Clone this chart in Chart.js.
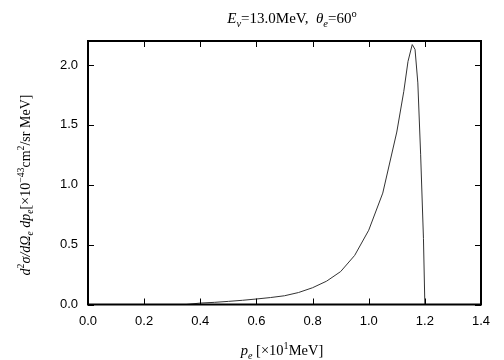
<!DOCTYPE html>
<html><head><meta charset="utf-8">
<script src="https://cdn.jsdelivr.net/npm/chart.js@4"></script>
<style>html,body{margin:0;padding:0;background:#fff}#wrap{width:504px;height:360px}</style>
</head><body><div id="wrap"><canvas id="c" width="504" height="360"></canvas></div>
<script>
// Data
const pE = [0.35, 0.40, 0.45, 0.50, 0.55, 0.60, 0.65, 0.70, 0.75, 0.80, 0.85, 0.90, 0.95, 1.00, 1.05, 1.10, 1.125, 1.14, 1.155, 1.165, 1.175, 1.185, 1.195, 1.20];
const xsec = [0.0, 0.012, 0.018, 0.026, 0.035, 0.046, 0.058, 0.073, 0.100, 0.140, 0.195, 0.275, 0.41, 0.62, 0.93, 1.44, 1.78, 2.03, 2.17, 2.13, 1.85, 1.25, 0.55, 0.0];
const xTicks = [0.0, 0.2, 0.4, 0.6, 0.8, 1.0, 1.2, 1.4];
const yTicks = [0.0, 0.5, 1.0, 1.5, 2.0];

const SERIF = '"Liberation Serif", "DejaVu Serif", serif';
const SANS = '"Liberation Sans", Arial, sans-serif';

function richWidth(ctx, parts, size) {
  let w = 0;
  for (const p of parts) {
    const s = p.sh ? size * 0.7 : size;
    ctx.font = (p.i ? 'italic ' : '') + s + 'px ' + SERIF;
    w += ctx.measureText(p.t).width;
  }
  return w;
}
function drawRich(ctx, parts, cx, cy, size, rot) {
  ctx.save();
  ctx.translate(cx, cy);
  if (rot) ctx.rotate(rot);
  const w = richWidth(ctx, parts, size);
  let x = -w / 2;
  ctx.fillStyle = '#000';
  ctx.textBaseline = 'alphabetic';
  ctx.textAlign = 'left';
  for (const p of parts) {
    const s = p.sh ? size * 0.7 : size;
    ctx.font = (p.i ? 'italic ' : '') + s + 'px ' + SERIF;
    let dy = 0;
    if (p.sh === 'sub') dy = size * 0.25;
    if (p.sh === 'sup') dy = -size * 0.4;
    ctx.fillText(p.t, x, size * 0.35 + dy);
    x += ctx.measureText(p.t).width;
  }
  ctx.restore();
}

const deco = {
  id: 'deco',
  afterDraw(chart) {
    const ctx = chart.ctx;
    const a = chart.chartArea;
    const xs = chart.scales.x, ys = chart.scales.y;
    ctx.save();
    ctx.strokeStyle = '#000';
    ctx.lineWidth = 1;
    const L = 6;
    for (const v of xTicks) {
      const px = Math.round(xs.getPixelForValue(v)) + 0.5;
      ctx.beginPath();
      ctx.moveTo(px, a.bottom); ctx.lineTo(px, a.bottom - L);
      ctx.moveTo(px, a.top); ctx.lineTo(px, a.top + L);
      ctx.stroke();
    }
    for (const v of yTicks) {
      const py = Math.round(ys.getPixelForValue(v)) + 0.5;
      ctx.beginPath();
      ctx.moveTo(a.left, py); ctx.lineTo(a.left + L, py);
      ctx.moveTo(a.right, py); ctx.lineTo(a.right - L, py);
      ctx.stroke();
    }
    ctx.lineWidth = 2;
    ctx.strokeRect(a.left, a.top, a.right - a.left, a.bottom - a.top);
    ctx.restore();

    drawRich(ctx, [
      {t:'E', i:true}, {t:'ν', i:true, sh:'sub'}, {t:'=13.0MeV,  '},
      {t:'θ', i:true}, {t:'e', i:true, sh:'sub'}, {t:'=60'}, {t:'o', sh:'sup'}
    ], 292, 18, 15, 0);

    drawRich(ctx, [
      {t:'d', i:true}, {t:'2', sh:'sup'}, {t:'σ/', i:true}, {t:'d', i:true}, {t:'Ω', i:true}, {t:'e', i:true, sh:'sub'},
      {t:' dp', i:true}, {t:'e', i:true, sh:'sub'}, {t:'[×10'}, {t:'−43', sh:'sup'}, {t:'cm'}, {t:'2', sh:'sup'}, {t:'/sr MeV]'}
    ], 25, 185, 14, -Math.PI / 2);

    drawRich(ctx, [
      {t:'p', i:true}, {t:'e', i:true, sh:'sub'}, {t:' [×10'}, {t:'1', sh:'sup'}, {t:'MeV]'}
    ], 282, 350, 14.5, 0);
  }
};

new Chart(document.getElementById('c'), {
  type: 'line',
  data: {
    datasets: [{
      data: pE.map((x, i) => ({x: x, y: xsec[i]})),
      borderColor: '#333',
      borderWidth: 1,
      pointRadius: 0,
      tension: 0,
      fill: false
    }]
  },
  options: {
    responsive: false,
    animation: false,
    devicePixelRatio: 1,
    layout: {padding: {left: 0, right: 23, top: 41, bottom: 0}},
    plugins: {legend: {display: false}, tooltip: {enabled: false}, title: {display: false}},
    scales: {
      x: {
        type: 'linear', min: 0, max: 1.4,
        afterBuildTicks: s => { s.ticks = xTicks.map(v => ({value: v})); },
        afterFit: s => { s.height = 55.5; },
        grid: {display: false, drawTicks: false},
        border: {display: false},
        ticks: {padding: 9, color: '#000', font: {family: SANS, size: 13}, callback: v => v.toFixed(1), maxRotation: 0, autoSkip: false}
      },
      y: {
        type: 'linear', min: 0, max: 2.2,
        afterBuildTicks: s => { s.ticks = yTicks.map(v => ({value: v})); },
        afterFit: s => { s.width = 88; },
        grid: {display: false, drawTicks: false},
        border: {display: false},
        ticks: {padding: 10, color: '#000', font: {family: SANS, size: 13}, callback: v => v.toFixed(1)}
      }
    }
  },
  plugins: [deco]
});
</script>
</body></html>
